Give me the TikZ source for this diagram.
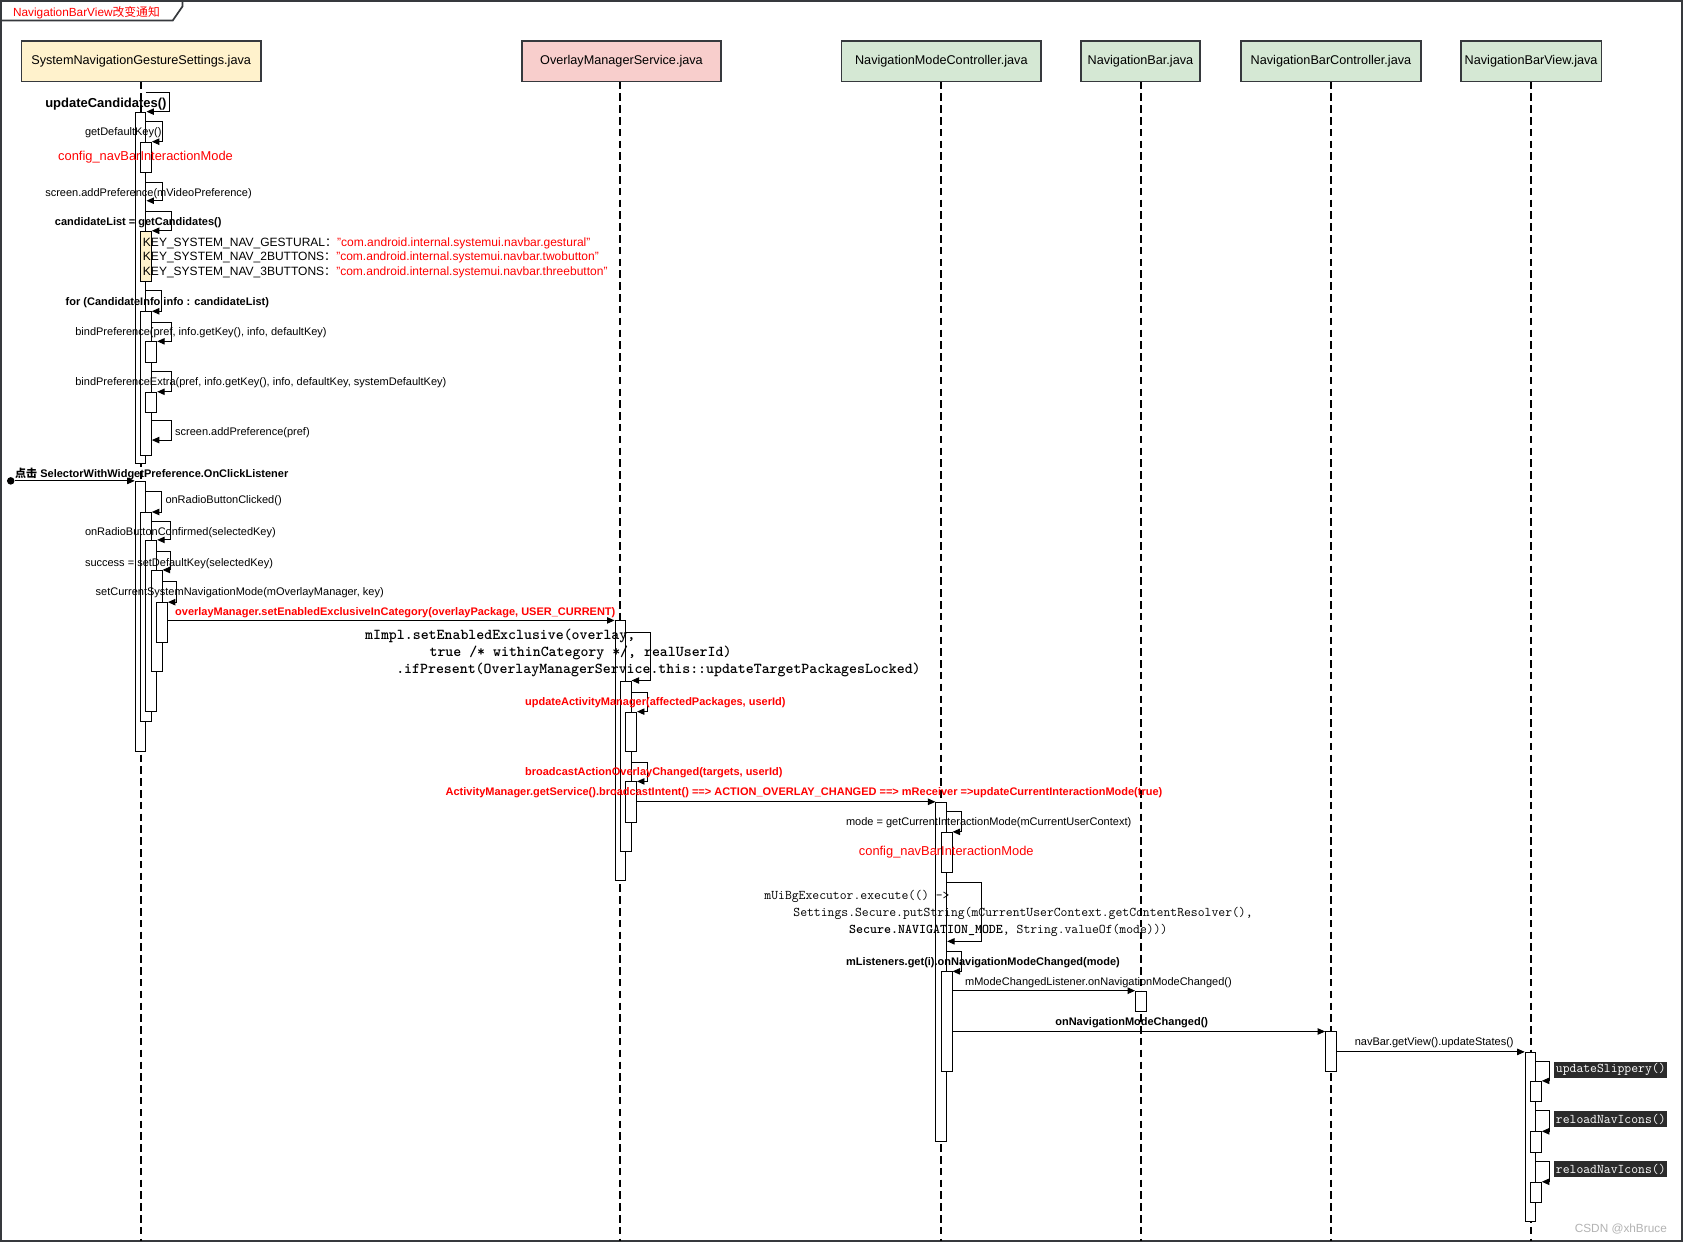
\documentclass[tikz,border=0pt]{standalone}
\usepackage{fontspec}
\setmainfont{Liberation Sans}
\newfontfamily\cjk{Noto Sans CJK SC}
\usetikzlibrary{arrows.meta}
\definecolor{headline}{HTML}{36393D}
\definecolor{cream}{HTML}{FFF2CC}
\definecolor{pinkfill}{HTML}{F8CECC}
\definecolor{greenfill}{HTML}{D5E8D4}
\definecolor{darkbg}{HTML}{2B2B2B}
\definecolor{wmgray}{HTML}{B3B3B3}
\definecolor{msgred}{HTML}{FF0000}
\newcommand{\myact}[5][white]{\node[act, fill=#1, minimum height={#5-#4}, anchor=north] (#2) at (#3,#4) {};}
\tikzset{
  lifeline/.style={line width=1.7pt, dash pattern=on 7pt off 4pt},
  head/.style={draw=headline, line width=1.6pt, minimum height=38pt, inner sep=0pt, font=\fontsize{11.8}{14}\selectfont},
  act/.style={draw, line width=0.9pt, minimum width=10pt, inner sep=0pt},
  msg/.style={line width=0.9pt, -{Triangle[length=7pt,width=6pt]}},
  txt/.style={anchor=west, inner sep=0pt, yshift=-1.7pt},
  lbl/.style={txt, font=\fontsize{10.25}{12}\selectfont},
  lblb/.style={txt, font=\fontsize{10.25}{12}\selectfont\bfseries},
  redb/.style={lblb, text=msgred},
  redbig/.style={txt, text=msgred, font=\fontsize{12}{14}\selectfont},
  keyl/.style={txt, font=\fontsize{11.2}{13}\selectfont},
  codeb/.style={txt, font=\fontsize{14.1}{16}\selectfont\ttfamily\bfseries},
  codem/.style={txt, font=\fontsize{12.4}{15}\selectfont\ttfamily},
  darklbl/.style={anchor=west, fill=darkbg, text=white, inner sep=0pt, minimum height=15pt, minimum width=105pt, font=\fontsize{12.4}{15}\selectfont\ttfamily}
}
\begin{document}
\begin{tikzpicture}[x=1pt,y=-1pt]
\useasboundingbox (0,0) rectangle (1568,1157);
\fill[white] (0,0) rectangle (1568,1157);
% frame
\draw[draw=headline, line width=1.6pt] (1,1) rectangle (1567,1156);
\draw[draw=headline, line width=1.6pt] (1,19) -- (161,19) -- (170,6) -- (170,1);
\node[txt, text=msgred, font=\fontsize{11}{13}\selectfont] (title) at (12,10) {NavigationBarView{\cjk 改变通知}};

% heads
\node[head, fill=cream, minimum width=223pt] (h1) at (131.5,57) {SystemNavigationGestureSettings.java};
\node[head, fill=pinkfill, minimum width=186pt] (h2) at (579,57) {OverlayManagerService.java};
\node[head, fill=greenfill, minimum width=186pt] (h3) at (877,57) {NavigationModeController.java};
\node[head, fill=greenfill, minimum width=111pt] (h4) at (1062.5,57) {NavigationBar.java};
\node[head, fill=greenfill, minimum width=168pt] (h5) at (1240,57) {NavigationBarController.java};
\node[head, fill=greenfill, minimum width=131pt] (h6) at (1426.5,57) {NavigationBarView.java};

% lifelines
\draw[lifeline] (131,76) -- (131,1156);
\draw[lifeline] (578,76) -- (578,1156);
\draw[lifeline] (877,76) -- (877,1156);
\draw[lifeline] (1063,76) -- (1063,1156);
\draw[lifeline] (1240,76) -- (1240,1156);
\draw[lifeline] (1426,76) -- (1426,1156);

% activations column 1
\myact{a1}{131}{104}{431}
\myact{a2}{136}{132}{160}
\myact[cream]{a3}{136}{215}{262}
\myact{a4}{136}{290}{424}
\myact{a5}{141}{318}{337}
\myact{a6}{141}{365}{384}
\myact{a7}{131}{448}{700}
\myact{a8}{136}{477}{672}
\myact{a9}{141}{503}{662}
\myact{a10}{146}{531}{625}
\myact{a11}{151}{561}{598}
% column 2
\myact{b1}{578}{578}{820}
\myact{b2}{583}{634}{793}
\myact{b3}{588}{663}{700}
\myact{b4}{588}{728}{766}
% column 3
\myact{c1}{877}{747}{1063}
\myact{c2}{882}{775}{812}
\myact{c3}{882}{905}{998}
% column 4,5,6
\myact{d1}{1063}{923}{942}
\myact{e1}{1240}{961}{998}
\myact{f1}{1426}{980}{1138}
\myact{f2}{1431}{1007}{1026}
\myact{f3}{1431}{1054}{1073}
\myact{f4}{1431}{1101}{1120}

% messages column 1
\draw[msg] (136,86) -- (158,86) |- (a1.north east);
\draw[msg] (a1.east |- 0,113) -- (151,113) |- (a2.north east);
\draw[msg] (a1.east |- 0,170) -- (151,170) |- (a1.east |- 0,187);
\draw[msg] (a1.east |- 0,197) -- (160,197) |- (a3.north east);
\draw[msg] (a1.east |- 0,271) -- (150,271) |- (a4.north east);
\draw[msg] (a4.east |- 0,300) -- (160,300) |- (a5.north east);
\draw[msg] (a4.east |- 0,346) -- (160,346) |- (a6.north east);
\draw[msg] (a4.east |- 0,392) -- (160,392) |- (a4.east |- 0,410);
\node[circle, fill, inner sep=0pt, minimum size=7pt] (start) at (10,448) {};
\draw[msg] (start) -- (a7.north west);
\draw[msg] (a7.east |- 0,458) -- (150,458) |- (a8.north east);
\draw[msg] (a8.east |- 0,486) -- (159,486) |- (a9.north east);
\draw[msg] (a9.east |- 0,514) -- (159,514) |- (a10.north east);
\draw[msg] (a10.east |- 0,542) -- (164,542) |- (a11.north east);
\draw[msg] (a11.east |- b1.north) -- (b1.north west);
% column 2
\draw[msg] (b1.east |- 0,589) -- (606,589) |- (b2.north east);
\draw[msg] (b2.east |- 0,645) -- (603,645) |- (b3.north east);
\draw[msg] (b2.east |- 0,710) -- (603,710) |- (b4.north east);
\draw[msg] (b4.east |- c1.north) -- (c1.north west);
% column 3
\draw[msg] (c1.east |- 0,756) -- (896,756) |- (c2.north east);
\draw[msg] (c1.east |- 0,822) -- (914,822) |- (c1.east |- 0,877);
\draw[msg] (c1.east |- 0,886) -- (896,886) |- (c3.north east);
\draw[msg] (c3.east |- d1.north) -- (d1.north west);
\draw[msg] (c3.east |- e1.north) -- (e1.north west);
\draw[msg] (e1.east |- f1.north) -- (f1.north west);
% column 6
\draw[msg] (f1.east |- 0,989) -- (1444,989) |- (f2.north east);
\draw[msg] (f1.east |- 0,1035) -- (1444,1035) |- (f3.north east);
\draw[msg] (f1.east |- 0,1082) -- (1444,1082) |- (f4.north east);

% labels column 1
\node[txt, font=\fontsize{12.1}{14}\selectfont\bfseries] (t0) at (42,95) {updateCandidates()};
\node[lbl] (t1) at (79,122) {getDefaultKey()};
\node[redbig] (t2) at (54,145) {config\_navBarInteractionMode};
\node[lbl] (t3) at (42,179) {screen.addPreference(mVideoPreference)};
\node[lblb] (t4) at (51,206) {candidateList = getCandidates()};
\node[keyl] (k1) at (133,225) {KEY\_SYSTEM\_NAV\_GESTURAL{\cjk ：}\textcolor{msgred}{"com.android.internal.systemui.navbar.gestural"}};
\node[keyl] (k2) at (133,238.5) {KEY\_SYSTEM\_NAV\_2BUTTONS{\cjk ：}\textcolor{msgred}{"com.android.internal.systemui.navbar.twobutton"}};
\node[keyl] (k3) at (133,252) {KEY\_SYSTEM\_NAV\_3BUTTONS{\cjk ：}\textcolor{msgred}{"com.android.internal.systemui.navbar.threebutton"}};
\node[lblb] (t5) at (61,280) {for (CandidateInfo info : candidateList)};
\node[lbl] (t6) at (70,308) {bindPreference(pref, info.getKey(), info, defaultKey)};
\node[lbl] (t7) at (70,355) {bindPreferenceExtra(pref, info.getKey(), info, defaultKey, systemDefaultKey)};
\node[lbl] (t8) at (163,401) {screen.addPreference(pref)};
\node[lblb] (t9) at (14,440) {{\cjk\bfseries 点击} SelectorWithWidgetPreference.OnClickListener};
\node[lbl] (t10) at (154,465) {onRadioButtonClicked()};
\node[lbl] (t11) at (79,495) {onRadioButtonConfirmed(selectedKey)};
\node[lbl] (t12) at (79,523) {success = setDefaultKey(selectedKey)};
\node[lbl] (t13) at (89,550) {setCurrentSystemNavigationMode(mOverlayManager, key)};
\node[redb] (t14) at (163,569) {overlayManager.setEnabledExclusiveInCategory(overlayPackage, USER\_CURRENT)};
% column 2
\node[codeb] (c21) at (340,591) {mImpl.setEnabledExclusive(overlay,};
\node[codeb] (c22) at (400,606.5) {true /* withinCategory */, realUserId)};
\node[codeb] (c23) at (369,622) {.ifPresent(OverlayManagerService.this::updateTargetPackagesLocked)};
\node[redb] (t15) at (489,653) {updateActivityManager(affectedPackages, userId)};
\node[redb] (t16) at (489,718) {broadcastActionOverlayChanged(targets, userId)};
\node[redb] (t17) at (415,737) {ActivityManager.getService().broadcastIntent() ==> ACTION\_OVERLAY\_CHANGED ==> mReceiver =>updateCurrentInteractionMode(true)};
% column 3
\node[lbl] (t18) at (788,765) {mode = getCurrentInteractionMode(mCurrentUserContext)};
\node[redbig] (t19) at (800,792) {config\_navBarInteractionMode};
\node[codem] (c31) at (712,833) {mUiBgExecutor.execute(() ->};
\node[codem] (c32) at (739,849) {Settings.Secure.putString(mCurrentUserContext.getContentResolver(),};
\node[codem] (c33) at (791,865) {\textbf{Secure.NAVIGATION\_MODE}, String.valueOf(mode)))};
\node[lblb] (t20) at (788,895) {mListeners.get(i).onNavigationModeChanged(mode)};
\node[lbl] (t21) at (899,914) {mModeChangedListener.onNavigationModeChanged()};
\node[lblb] (t22) at (983,951) {onNavigationModeChanged()};
\node[lbl] (t23) at (1262,970) {navBar.getView().updateStates()};
% column 6
\node[darklbl] (d61) at (1448,996.5) {updateSlippery()};
\node[darklbl] (d62) at (1448,1042.5) {reloadNavIcons()};
\node[darklbl] (d63) at (1448,1089.5) {reloadNavIcons()};
\node[txt, text=wmgray, font=\fontsize{11}{13}\selectfont] (wm) at (1467,1143) {CSDN @xhBruce};
\end{tikzpicture}
\end{document}
